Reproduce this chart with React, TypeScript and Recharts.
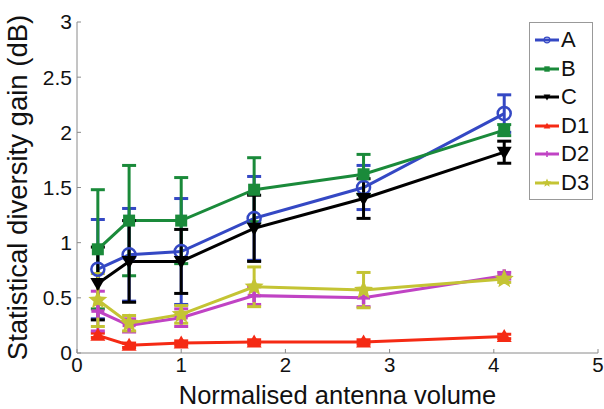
import React from "react";
import { ComposedChart, Line, XAxis, YAxis, ErrorBar } from "recharts";

// Normalised antenna volume at each measured point
const volumes = [0.2, 0.5, 1, 1.7, 2.75, 4.1];

// Mean statistical diversity gain (dB) per antenna configuration
const gainA = [0.76, 0.89, 0.92, 1.22, 1.5, 2.17];
const gainB = [0.94, 1.2, 1.2, 1.48, 1.62, 2.02];
const gainC = [0.63, 0.83, 0.83, 1.13, 1.4, 1.82];
const gainD1 = [0.16, 0.07, 0.09, 0.1, 0.1, 0.15];
const gainD2 = [0.38, 0.25, 0.32, 0.52, 0.5, 0.7];
const gainD3 = [0.48, 0.27, 0.35, 0.6, 0.57, 0.67];

// Half-width of the spread shown by each error bar (dB)
const errA = [0.45, 0.42, 0.48, 0.38, 0.2, 0.17];
const errB = [0.54, 0.5, 0.39, 0.29, 0.18, 0.05];
const errC = [0.33, 0.37, 0.29, 0.3, 0.18, 0.1];
const errD1 = [0.02, 0.02, 0.02, 0.02, 0.02, 0.02];
const errD2 = [0.18, 0.06, 0.08, 0.08, 0.08, 0.03];
const errD3 = [0.24, 0.07, 0.08, 0.18, 0.16, 0.03];

const xTicks = [0, 1, 2, 3, 4, 5];
const yTicks = [0, 0.5, 1, 1.5, 2, 2.5, 3];

type MarkerKind = "circle" | "square" | "down" | "up" | "plus" | "star";

const seriesDefs: { name: string; color: string; marker: MarkerKind; gain: number[]; err: number[] }[] = [
  { name: "A", color: "#3448c4", marker: "circle", gain: gainA, err: errA },
  { name: "B", color: "#1a8a3a", marker: "square", gain: gainB, err: errB },
  { name: "C", color: "#000000", marker: "down", gain: gainC, err: errC },
  { name: "D1", color: "#f52a14", marker: "up", gain: gainD1, err: errD1 },
  { name: "D2", color: "#c043c4", marker: "plus", gain: gainD2, err: errD2 },
  { name: "D3", color: "#c4c434", marker: "star", gain: gainD3, err: errD3 },
];

const FONT = "'Liberation Sans', Arial, Helvetica, sans-serif";

function starPath(cx: number, cy: number, ro: number, ri: number) {
  let d = "";
  for (let i = 0; i < 10; i++) {
    const r = i % 2 === 0 ? ro : ri;
    const a = -Math.PI / 2 + (i * Math.PI) / 5;
    d += (i === 0 ? "M" : "L") + (cx + r * Math.cos(a)).toFixed(2) + "," + (cy + r * Math.sin(a)).toFixed(2);
  }
  return d + "Z";
}

function Marker({ kind, cx, cy, color, s = 1 }: { kind: MarkerKind; cx: number; cy: number; color: string; s?: number }) {
  switch (kind) {
    case "circle":
      return <circle cx={cx} cy={cy} r={6.5 * s} fill="none" stroke={color} strokeWidth={2.5 * s} />;
    case "square":
      return <rect x={cx - 6 * s} y={cy - 6 * s} width={12 * s} height={12 * s} fill={color} />;
    case "down":
      return <path d={`M${cx - 7.5 * s},${cy - 5.5 * s}L${cx + 7.5 * s},${cy - 5.5 * s}L${cx},${cy + 7.5 * s}Z`} fill={color} />;
    case "up":
      return <path d={`M${cx - 7.5 * s},${cy + 5.5 * s}L${cx + 7.5 * s},${cy + 5.5 * s}L${cx},${cy - 7.5 * s}Z`} fill={color} />;
    case "plus":
      return (
        <g stroke={color} strokeWidth={3.5 * s}>
          <line x1={cx - 6.5 * s} y1={cy} x2={cx + 6.5 * s} y2={cy} />
          <line x1={cx} y1={cy - 6.5 * s} x2={cx} y2={cy + 6.5 * s} />
        </g>
      );
    case "star":
      return <path d={starPath(cx, cy, 10 * s, 4.5 * s)} fill={color} />;
  }
}

function makeDot(kind: MarkerKind, color: string) {
  return (props: any) => {
    const { cx, cy, index } = props;
    if (cx == null || cy == null) return <g key={index} />;
    return (
      <g key={index}>
        <Marker kind={kind} cx={cx} cy={cy} color={color} />
      </g>
    );
  };
}

function LegendBox() {
  return (
    <div
      style={{
        position: "absolute",
        left: 529,
        top: 22,
        width: 64,
        height: 178,
        border: "1px solid #999",
        background: "#fff",
        boxSizing: "border-box",
        fontFamily: FONT,
        fontSize: 22,
        color: "#111",
        paddingTop: 3,
      }}
    >
      {seriesDefs.map((s) => (
        <div key={s.name} style={{ display: "flex", alignItems: "center", height: 28.5 }}>
          <svg width={28} height={16} style={{ marginLeft: 3 }}>
            <line x1={2} y1={8} x2={26} y2={8} stroke={s.color} strokeWidth={3} />
            <Marker kind={s.marker} cx={14} cy={8} color={s.color} s={0.45} />
          </svg>
          <span>{s.name}</span>
        </div>
      ))}
    </div>
  );
}

export default function App() {
  return (
    <div style={{ position: "absolute", left: 0, top: 0, width: 604, height: 409, background: "#fff" }}>
      <ComposedChart width={604} height={409} margin={{ top: 22, right: 6, bottom: 0, left: 0 }}>
        <XAxis
          type="number"
          dataKey="x"
          domain={[0, 5]}
          ticks={xTicks}
          allowDuplicatedCategory={false}
          height={56}
          stroke="#8a8a8a"
          tickSize={-4}
          tickMargin={8}
          tick={{ fill: "#111", fontSize: 20.5, fontFamily: FONT }}
          label={{ value: "Normalised antenna volume", position: "insideBottom", offset: 5.5, fill: "#111", fontSize: 25.5, fontFamily: FONT }}
        />
        <YAxis
          type="number"
          domain={[0, 3]}
          ticks={yTicks}
          width={77}
          stroke="#8a8a8a"
          tickSize={-4}
          tickMargin={9}
          tick={{ fill: "#111", fontSize: 21, fontFamily: FONT }}
          label={{
            value: "Statistical diversity gain (dB)",
            angle: -90,
            position: "insideLeft",
            offset: 17,
            fill: "#111",
            fontSize: 27.5,
            fontFamily: FONT,
            style: { textAnchor: "middle" },
          }}
        />
        {seriesDefs.map((s) => (
          <Line
            key={s.name}
            name={s.name}
            data={volumes.map((x, i) => ({ x, y: s.gain[i], e: s.err[i] }))}
            dataKey="y"
            stroke={s.color}
            strokeWidth={3}
            dot={makeDot(s.marker, s.color)}
            activeDot={false}
            isAnimationActive={false}
          >
            <ErrorBar dataKey="e" direction="y" stroke={s.color} strokeWidth={3} width={7} />
          </Line>
        ))}
      </ComposedChart>
      <LegendBox />
    </div>
  );
}
